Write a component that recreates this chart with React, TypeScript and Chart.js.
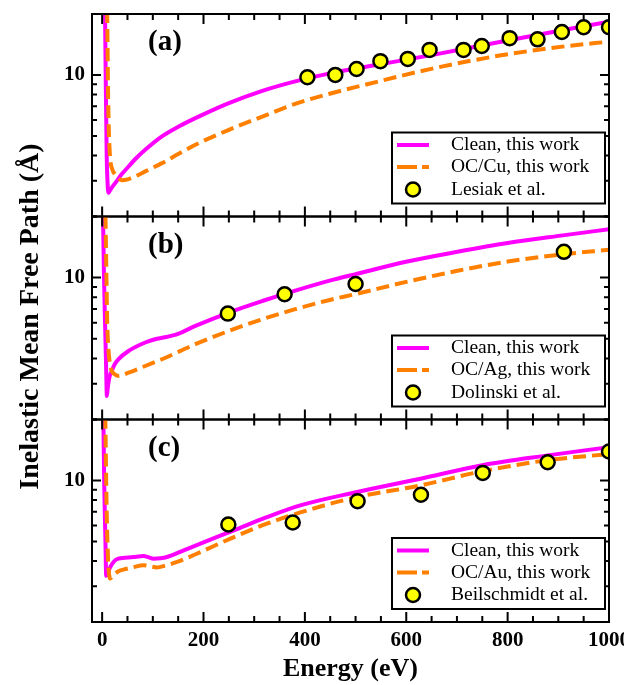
import React, { useEffect, useRef } from 'react';
import { Chart, registerables } from 'chart.js';

Chart.register(...registerables);

// ---------------- data ----------------
// Panel (a)
const aCleanE = [5, 7, 9, 10.5, 12.5, 15, 20, 26, 38, 52, 68, 85, 118, 151, 184, 250, 316, 381, 447, 523, 655, 787, 918, 1000];
const aCleanV = [30, 10, 4, 3.0, 2.62, 2.68, 2.8, 2.93, 3.22, 3.53, 3.9, 4.27, 4.97, 5.56, 6.12, 7.26, 8.35, 9.3, 10.15, 11.0, 12.6, 14.6, 16.8, 18.3];
const aOcE = [8, 10, 11.5, 13, 14.5, 16, 20, 26, 32, 39, 52, 68, 85, 118, 151, 184, 250, 316, 381, 447, 523, 655, 787, 918, 1000];
const aOcV = [40, 20, 9, 5.5, 4.4, 3.81, 3.42, 3.22, 3.1, 3.02, 3.06, 3.18, 3.34, 3.67, 4.08, 4.52, 5.36, 6.23, 7.2, 8.05, 9.0, 10.8, 12.5, 13.9, 14.6];
const aExpE = [405, 460, 502, 549, 603, 646, 713, 749, 804, 859, 907, 950, 1000];
const aExpV = [9.74, 10.0, 10.7, 11.7, 12.0, 13.3, 13.3, 13.9, 15.2, 15.0, 16.3, 17.2, 17.2];

// Panel (b)
const bCleanE = [1.5, 3.7, 6.5, 8, 9.3, 11, 14, 19, 25, 32, 52, 85, 108, 124, 151, 184, 250, 316, 362, 447, 500, 602, 701, 800, 905, 1000];
const bCleanV = [22, 10, 5, 3.5, 2.61, 2.85, 3.2, 3.47, 3.75, 3.96, 4.35, 4.79, 5.0, 5.08, 5.3, 5.78, 6.73, 7.67, 8.34, 9.63, 10.4, 12.0, 13.4, 14.8, 16.1, 17.3];
const bOcE = [6, 8, 10, 12, 14, 16, 19, 24, 32, 52, 85, 118, 184, 250, 316, 381, 447, 500, 602, 701, 800, 905, 1000];
const bOcV = [25, 12, 6, 4.6, 4.0, 3.7, 3.47, 3.35, 3.28, 3.4, 3.67, 3.96, 4.7, 5.46, 6.24, 6.99, 7.74, 8.3, 9.55, 10.8, 12.0, 13.0, 13.7];
const bExpE = [248, 360, 500, 911];
const bExpV = [6.65, 8.28, 9.3, 13.4];

// Panel (c)
const cCleanE = [2, 4, 6.5, 8, 11, 16, 24, 32, 45, 62, 82, 92, 101, 115, 128, 161, 194, 260, 325, 391, 503, 628, 750, 879, 1000];
const cCleanV = [25, 10, 5, 3.38, 3.5, 3.74, 4.0, 4.11, 4.15, 4.19, 4.23, 4.17, 4.11, 4.13, 4.19, 4.52, 4.88, 5.67, 6.59, 7.53, 8.77, 10.2, 11.9, 13.3, 14.6];
const cOcE = [5, 7, 9, 11, 13, 16, 20, 26, 34, 42, 60, 82, 95, 108, 125, 148, 194, 253, 325, 391, 503, 628, 750, 879, 1000];
const cOcV = [40, 15, 7, 4.5, 3.6, 3.28, 3.35, 3.47, 3.58, 3.63, 3.72, 3.81, 3.77, 3.72, 3.8, 3.96, 4.43, 5.16, 6.12, 6.95, 8.28, 9.45, 11.1, 12.6, 13.5];
const cExpE = [249, 376, 504, 629, 751, 879, 1000];
const cExpV = [6.06, 6.2, 7.9, 8.5, 10.9, 12.3, 13.9];

// Labels and ticks
const panelLabels = ['(a)', '(b)', '(c)'];
const cleanLabel = 'Clean, this work';
const ocLabels = ['OC/Cu, this work', 'OC/Ag, this work', 'OC/Au, this work'];
const expLabels = ['Lesiak et al.', 'Dolinski et al.', 'Beilschmidt et al.'];
const xTitle = 'Energy (eV)';
const yTitle = 'Inelastic Mean Free Path (Å)';
const xTickValues = [0, 50, 100, 150, 200, 250, 300, 350, 400, 450, 500, 550, 600, 650, 700, 750, 800, 850, 900, 950, 1000];
const xLabelValues = [0, 200, 400, 600, 800, 1000];
const yTickValues = [2, 3, 4, 5, 6, 7, 8, 9, 10, 20];
const yLabelValues = [10];
const xRange = [-20, 1000];
const yRange = [2, 20];

const PANELS = [
  { cleanE: aCleanE, cleanV: aCleanV, ocE: aOcE, ocV: aOcV, expE: aExpE, expV: aExpV },
  { cleanE: bCleanE, cleanV: bCleanV, ocE: bOcE, ocV: bOcV, expE: bExpE, expV: bExpV },
  { cleanE: cCleanE, cleanV: cCleanV, ocE: cOcE, ocV: cOcV, expE: cExpE, expV: cExpV },
];

// ---------------- layout / style ----------------
const W = 624;
const H = 685;
const PLOT_LEFT = 92;
const PLOT_RIGHT = 609;
const EDGES = [14, 216.5, 419.5, 622];
const FONT = '"Liberation Serif", "Times New Roman", serif';
const MAGENTA = '#ff00ff';
const ORANGE = '#ff8000';

const pairs = (xs: number[], ys: number[]) => xs.map((x, i) => ({ x, y: ys[i] }));

const decor = {
  id: 'decor',
  afterDatasetsDraw(chart: any, _args: any, opts: any) {
    const { ctx, chartArea: ca } = chart;
    const xs = chart.scales.x;
    const ys = chart.scales.y;
    ctx.save();

    // legend box
    const bw = 213, bh = 71;
    const bx = ca.right - 4 - bw;
    const by = ca.bottom - 13 - bh;
    ctx.fillStyle = '#fff';
    ctx.fillRect(bx, by, bw, bh);
    ctx.lineWidth = 2;
    ctx.strokeStyle = '#000';
    ctx.strokeRect(bx, by, bw, bh);
    const rows = [12.5, 34.5, 57];
    chart.data.datasets.forEach((ds: any, i: number) => {
      const ry = by + rows[i];
      if (ds.showLine === false) {
        ctx.beginPath();
        ctx.arc(bx + 21, ry, ds.pointRadius, 0, Math.PI * 2);
        ctx.fillStyle = ds.pointBackgroundColor;
        ctx.fill();
        ctx.lineWidth = ds.pointBorderWidth;
        ctx.strokeStyle = ds.pointBorderColor;
        ctx.stroke();
      } else {
        ctx.beginPath();
        ctx.setLineDash(ds.borderDash ? [20, 5] : []);
        ctx.moveTo(bx + 5, ry);
        ctx.lineTo(bx + 37, ry);
        ctx.lineWidth = ds.borderWidth;
        ctx.strokeStyle = ds.borderColor;
        ctx.stroke();
        ctx.setLineDash([]);
      }
      ctx.fillStyle = '#000';
      ctx.font = `19.5px ${FONT}`;
      ctx.textAlign = 'left';
      ctx.textBaseline = 'middle';
      ctx.fillText(ds.label, bx + 59, ry);
    });

    // inward ticks
    ctx.strokeStyle = '#000';
    ctx.lineWidth = 2;
    ctx.beginPath();
    xs.ticks.forEach((t: any) => {
      const px = xs.getPixelForValue(t.value);
      const len = xLabelValues.includes(t.value) ? 10 : 6;
      ctx.moveTo(px, ca.top);
      ctx.lineTo(px, ca.top + len);
      ctx.moveTo(px, ca.bottom);
      ctx.lineTo(px, ca.bottom - len);
    });
    ys.ticks.forEach((t: any) => {
      const py = ys.getPixelForValue(t.value);
      const len = yLabelValues.includes(t.value) ? 9 : 5;
      ctx.moveTo(ca.left, py);
      ctx.lineTo(ca.left + len, py);
      ctx.moveTo(ca.right, py);
      ctx.lineTo(ca.right - len, py);
    });
    ctx.stroke();

    // frame
    ctx.strokeRect(ca.left, ca.top, ca.right - ca.left, ca.bottom - ca.top);

    // panel label
    ctx.fillStyle = '#000';
    ctx.font = `bold 29px ${FONT}`;
    ctx.textAlign = 'left';
    ctx.textBaseline = 'middle';
    ctx.fillText(opts.label, ca.left + 56, ca.top + 29);

    // shared y title
    if (opts.yTitle) {
      ctx.save();
      ctx.translate(31, (EDGES[0] + EDGES[3]) / 2 - 1.5);
      ctx.rotate(-Math.PI / 2);
      ctx.font = `bold 28px ${FONT}`;
      ctx.textAlign = 'center';
      ctx.textBaseline = 'middle';
      ctx.fillText(opts.yTitle, 0, 0);
      ctx.restore();
    }
    ctx.restore();
  },
};

function makeConfig(i: number): any {
  const p = PANELS[i];
  const top = EDGES[i];
  const bottom = EDGES[i + 1];
  const isBottom = i === 2;
  const tickFont = { family: FONT, size: 21, weight: 'bold' as const };
  const xScale: any = {
    type: 'linear',
    min: xRange[0],
    max: xRange[1],
    display: isBottom,
    afterBuildTicks: (s: any) => {
      s.ticks = xTickValues.map((v) => ({ value: v }));
    },
    grid: { display: false, drawTicks: false, tickLength: 0 },
    border: { display: false },
    ticks: {
      autoSkip: false,
      maxRotation: 0,
      padding: 6,
      color: '#000',
      font: tickFont,
      callback: (v: number) => (xLabelValues.includes(v) ? String(v) : ''),
    },
    title: {
      display: true,
      text: xTitle,
      color: '#000',
      font: { family: FONT, size: 26, weight: 'bold' },
      padding: 0,
    },
  };
  if (isBottom) {
    xScale.afterFit = (s: any) => {
      s.height = H - bottom;
      s.paddingLeft = 0;
      s.paddingRight = 0;
    };
  }
  return {
    type: 'line',
    data: {
      datasets: [
        {
          label: cleanLabel,
          data: pairs(p.cleanE, p.cleanV),
          borderColor: MAGENTA,
          backgroundColor: MAGENTA,
          borderWidth: 4,
          pointRadius: 0,
          cubicInterpolationMode: 'monotone',
          order: 2,
          clip: 0,
        },
        {
          label: ocLabels[i],
          data: pairs(p.ocE, p.ocV),
          borderColor: ORANGE,
          backgroundColor: ORANGE,
          borderWidth: 4,
          borderDash: [13, 6],
          pointRadius: 0,
          cubicInterpolationMode: 'monotone',
          order: 1,
          clip: 0,
        },
        {
          label: expLabels[i],
          data: pairs(p.expE, p.expV),
          showLine: false,
          pointRadius: 7,
          pointBackgroundColor: '#ffff00',
          pointBorderColor: '#000',
          pointBorderWidth: 2.5,
          order: 0,
          clip: 0,
        },
      ],
    },
    options: {
      responsive: false,
      animation: false,
      events: [],
      layout: {
        padding: { left: 0, right: W - PLOT_RIGHT, top, bottom: isBottom ? 0 : H - bottom },
      },
      scales: {
        x: xScale,
        y: {
          type: 'logarithmic',
          min: yRange[0],
          max: yRange[1],
          afterFit: (s: any) => {
            s.width = PLOT_LEFT;
            s.paddingTop = 0;
            s.paddingBottom = 0;
          },
          afterBuildTicks: (s: any) => {
            s.ticks = yTickValues.map((v) => ({ value: v }));
          },
          grid: { display: false, drawTicks: false, tickLength: 0 },
          border: { display: false },
          ticks: {
            autoSkip: false,
            padding: 7,
            color: '#000',
            font: tickFont,
            callback: (v: number) => (yLabelValues.includes(v) ? String(v) : ''),
          },
        },
      },
      plugins: {
        legend: { display: false },
        tooltip: { enabled: false },
        decor: { label: panelLabels[i], yTitle: i === 1 ? yTitle : null },
      },
    },
    plugins: [decor],
  };
}

function Panel({ idx }: { idx: number }) {
  const ref = useRef<HTMLCanvasElement>(null);
  useEffect(() => {
    const chart = new Chart(ref.current as HTMLCanvasElement, makeConfig(idx));
    return () => chart.destroy();
  }, [idx]);
  return (
    <canvas
      ref={ref}
      width={W}
      height={H}
      style={{ position: 'absolute', left: 0, top: 0, width: W, height: H }}
    />
  );
}

export default function App() {
  return (
    <div style={{ position: 'absolute', left: 0, top: 0, width: W, height: H, background: '#fff', overflow: 'hidden' }}>
      <Panel idx={0} />
      <Panel idx={1} />
      <Panel idx={2} />
    </div>
  );
}
